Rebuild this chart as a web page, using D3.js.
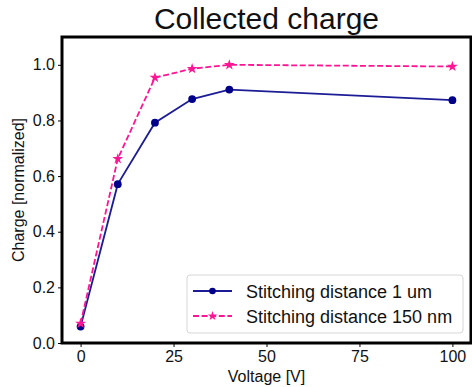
<!DOCTYPE html>
<html lang="en">
<head>
<meta charset="UTF-8">
<title>Collected charge</title>
<script src="https://d3js.org/d3.v7.min.js"></script>
<style>
    body { margin: 0; background: #fff; }
    svg text { font-family: "Liberation Sans", Arial, sans-serif; fill: #111; }
</style>
</head>
<body>
<div id="chart"></div>
<script>
    // data
    const voltage = [0, 10, 20, 30, 40, 100];
    const charge1um = [0.059, 0.571, 0.792, 0.877, 0.911, 0.873];
    const charge150nm = [0.07, 0.662, 0.954, 0.986, 1.0, 0.994];
    const seriesNames = ["Stitching distance 1 um", "Stitching distance 150 nm"];
    const xTicks = [0, 25, 50, 75, 100];
    const yTicks = [0, 0.2, 0.4, 0.6, 0.8, 1.0];

    const width = 472, height = 387;
    const margin = { top: 37, right: 2, bottom: 44, left: 62 };

    const svg = d3.select("#chart").append("svg")
        .attr("width", width)
        .attr("height", height);

    const x = d3.scaleLinear().domain([-5, 105]).range([margin.left, margin.left + 409]);
    const y = d3.scaleLinear().domain([0, 1.1]).range([343, margin.top]);

    // axes
    svg.append("g")
        .attr("transform", `translate(0,${y(0)})`)
        .call(d3.axisBottom(x).tickValues(xTicks).tickSize(4).tickPadding(4))
        .call(g => g.select(".domain").remove())
        .call(g => g.selectAll("text").style("font-size", "16px"));

    svg.append("g")
        .attr("transform", `translate(${x(-5)},0)`)
        .call(d3.axisLeft(y).tickValues(yTicks).tickFormat(d3.format(".1f")).tickSize(4).tickPadding(3))
        .call(g => g.select(".domain").remove())
        .call(g => g.selectAll("text").style("font-size", "16px"));

    // frame
    svg.append("rect")
        .attr("x", x(-5))
        .attr("y", y(1.1))
        .attr("width", x(105) - x(-5))
        .attr("height", y(0) - y(1.1))
        .attr("fill", "none")
        .attr("stroke", "#000")
        .attr("stroke-width", 3);

    // lines
    const line = d3.line().x(d => x(d[0])).y(d => y(d[1]));
    const pts1 = voltage.map((v, i) => [v, charge1um[i]]);
    const pts2 = voltage.map((v, i) => [v, charge150nm[i]]);

    svg.append("path")
        .datum(pts1)
        .attr("d", line)
        .attr("fill", "none")
        .attr("stroke", "#1c1c96")
        .attr("stroke-width", 1.8);

    svg.append("g").selectAll("circle")
        .data(pts1)
        .join("circle")
        .attr("cx", d => x(d[0]))
        .attr("cy", d => y(d[1]))
        .attr("r", 3.9)
        .attr("fill", "#00008b");

    svg.append("path")
        .datum(pts2)
        .attr("d", line)
        .attr("fill", "none")
        .attr("stroke", "#ff1493")
        .attr("stroke-width", 1.8)
        .attr("stroke-dasharray", "6,2.6");

    const star = d3.symbol().type(d3.symbolStar).size(36);
    svg.append("g").selectAll("path")
        .data(pts2)
        .join("path")
        .attr("d", star)
        .attr("transform", d => `translate(${x(d[0])},${y(d[1])})`)
        .attr("fill", "#ff1493");

    // title and labels
    svg.append("text")
        .attr("x", (x(-5) + x(105)) / 2)
        .attr("y", 29)
        .attr("text-anchor", "middle")
        .style("font-size", "30px")
        .text("Collected charge");

    svg.append("text")
        .attr("x", (x(-5) + x(105)) / 2)
        .attr("y", 382)
        .attr("text-anchor", "middle")
        .style("font-size", "16px")
        .text("Voltage [V]");

    svg.append("text")
        .attr("transform", `translate(24,${(y(0) + y(1.1)) / 2}) rotate(-90)`)
        .attr("text-anchor", "middle")
        .style("font-size", "16px")
        .text("Charge [normalized]");

    // legend
    const legend = svg.append("g");
    legend.append("rect")
        .attr("x", 187)
        .attr("y", 275)
        .attr("width", 276)
        .attr("height", 58)
        .attr("rx", 3)
        .attr("fill", "#fff")
        .attr("fill-opacity", 0.85)
        .attr("stroke", "#d6d6d6");

    const rows = [291, 316];
    // row 1
    legend.append("line")
        .attr("x1", 193).attr("x2", 232)
        .attr("y1", rows[0]).attr("y2", rows[0])
        .attr("stroke", "#1c1c96").attr("stroke-width", 1.8);
    legend.append("circle")
        .attr("cx", 212.5).attr("cy", rows[0]).attr("r", 3.3)
        .attr("fill", "#00008b");
    // row 2
    legend.append("line")
        .attr("x1", 193).attr("x2", 232)
        .attr("y1", rows[1]).attr("y2", rows[1])
        .attr("stroke", "#ff1493").attr("stroke-width", 1.8)
        .attr("stroke-dasharray", "6,2.6");
    legend.append("path")
        .attr("d", d3.symbol().type(d3.symbolStar).size(28))
        .attr("transform", `translate(212.5,${rows[1]})`)
        .attr("fill", "#ff1493");

    legend.selectAll("text.lbl")
        .data(seriesNames)
        .join("text")
        .attr("class", "lbl")
        .attr("x", 246)
        .attr("y", (d, i) => rows[i] + 6.5)
        .style("font-size", "18px")
        .text(d => d);
</script>
</body>
</html>
